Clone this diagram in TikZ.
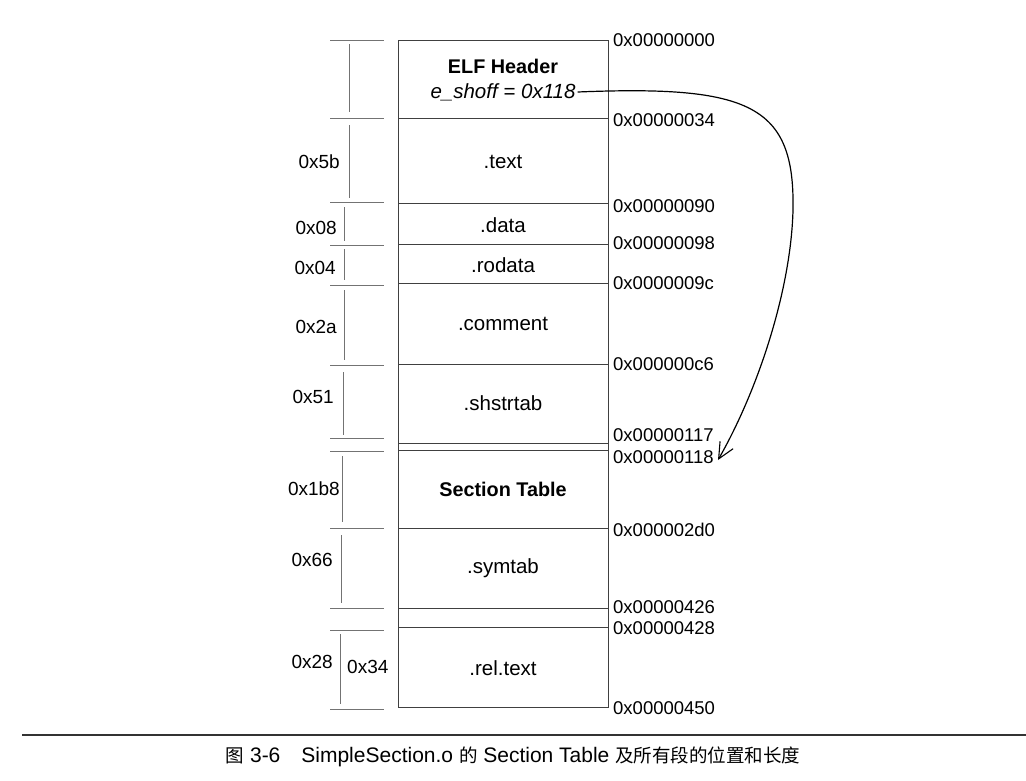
\documentclass[tikz,border=0pt]{standalone}
\usepackage{fontspec}
\setmainfont{Liberation Sans}
\newfontfamily\cjk{Noto Sans CJK SC}
\usetikzlibrary{arrows.meta}
\begin{document}
\begin{tikzpicture}[x=1pt,y=-1pt,
  boxline/.style={draw=black!75,line width=0.9pt},
  tickline/.style={draw=black!55,line width=0.8pt},
  dimline/.style={draw=black!55,line width=0.8pt},
  addr/.style={anchor=west,inner sep=0pt,font=\fontsize{18.5}{20}\selectfont},
  seclbl/.style={inner sep=0pt,font=\fontsize{20.5}{22}\selectfont},
  seclblb/.style={inner sep=0pt,font=\fontsize{19.8}{22}\selectfont\bfseries},
  sizelbl/.style={anchor=east,inner sep=0pt,font=\fontsize{19}{21}\selectfont},
  ptr/.style={draw=black,line width=1.2pt,-{Straight Barb[length=16pt,width=15pt,line width=1.1pt]}}]
\useasboundingbox (0,0) rectangle (1026,780);
% main box outline
\draw[boxline] (398,40) rectangle (608,707);
% section dividers inside box
\foreach \y in {118,203,244,283,364,443,450,528,608,627}
  \draw[boxline] (398,\y) -- (608,\y);
% address labels
\node[addr] (a0)   at (613,40)  {0x00000000};
\node[addr] (a34)  at (613,120) {0x00000034};
\node[addr] (a90)  at (613,206) {0x00000090};
\node[addr] (a98)  at (613,243) {0x00000098};
\node[addr] (a9c)  at (613,283) {0x0000009c};
\node[addr] (ac6)  at (613,364) {0x000000c6};
\node[addr] (a117) at (613,435) {0x00000117};
\node[addr] (a118) at (613,457) {0x00000118};
\node[addr] (a2d0) at (613,530) {0x000002d0};
\node[addr] (a426) at (613,607) {0x00000426};
\node[addr] (a428) at (613,628) {0x00000428};
\node[addr] (a450) at (613,708) {0x00000450};
% section labels
\node[seclblb] (elf) at (503,66) {ELF Header};
\node[seclbl,font=\fontsize{20.5}{22}\selectfont\itshape] (eshoff) at (503,92) {e\_shoff = 0x118};
\node[seclbl] (text) at (503,162) {.text};
\node[seclbl] (data) at (503,225) {.data};
\node[seclbl] (rodata) at (503,265) {.rodata};
\node[seclbl] (comment) at (503,324) {.comment};
\node[seclbl] (shstrtab) at (503,403) {.shstrtab};
\node[seclblb] (sectab) at (503,489) {Section Table};
\node[seclbl] (symtab) at (503,568) {.symtab};
\node[seclbl] (reltext) at (503,668) {.rel.text};
% left ticks
\foreach \y in {40,118,202,245,285,365,438,451,528,608,630,709}
  \draw[tickline] (330,\y) -- (384,\y);
% left dimension lines
\draw[dimline] (349,44) -- (349,112);
\draw[dimline] (349,125) -- (349,198);
\draw[dimline] (344,207) -- (344,241);
\draw[dimline] (344,249) -- (344,280);
\draw[dimline] (344,290) -- (344,360);
\draw[dimline] (343,372) -- (343,435);
\draw[dimline] (342,456) -- (342,522);
\draw[dimline] (341,535) -- (341,603);
\draw[dimline] (340,634) -- (340,704);
% size labels
\node[sizelbl] (s5b) at (340,162) {0x5b};
\node[sizelbl] (s08) at (337,228) {0x08};
\node[sizelbl] (s04) at (336,268) {0x04};
\node[sizelbl] (s2a) at (337,327) {0x2a};
\node[sizelbl] (s51) at (334,397) {0x51};
\node[sizelbl] (s1b8) at (340,489) {0x1b8};
\node[sizelbl] (s66) at (333,560) {0x66};
\node[sizelbl] (s28) at (333,662) {0x28};
\node[sizelbl,anchor=west] (s34) at (347,667) {0x34};
% pointer arrow
\coordinate (tip) at (718,460);
\draw[ptr] (eshoff.east) ++(2,0) .. controls (750,85) and (795,105) .. (793,210)
  .. controls (791,290) and (758,390) .. (tip);
% caption rule and caption
\draw[draw=black!80,line width=1.8pt] (22,735) -- (1026,735);
\node[inner sep=0pt,font=\fontsize{21}{23}\selectfont] (cap) at (513,757)
  {{\cjk\fontsize{18.5}{20}\selectfont 图} 3-6\hspace{1em}SimpleSection.o {\cjk\fontsize{18.5}{20}\selectfont 的} Section Table {\cjk\fontsize{18.5}{20}\selectfont 及所有段的位置和长度}};
\end{tikzpicture}
\end{document}
